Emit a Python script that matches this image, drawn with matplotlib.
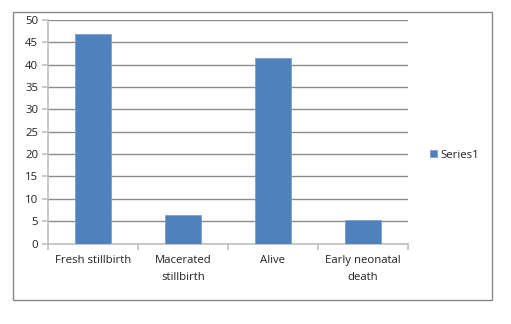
import matplotlib
matplotlib.use("Agg")
import matplotlib.pyplot as plt
from matplotlib.patches import Rectangle

categories = ["Fresh stillbirth", "Macerated\nstillbirth", "Alive", "Early neonatal\ndeath"]
values = [46.8, 6.3, 41.4, 5.3]
series_name = "Series1"
yticks = [0, 5, 10, 15, 20, 25, 30, 35, 40, 45, 50]

plt.rcParams['font.family'] = ['Open Sans', 'DejaVu Sans']

W, H = 511, 324
fig = plt.figure(figsize=(W/100, H/100), dpi=100)
fig.patch.set_facecolor("white")

# outer chart border
fig.patches.append(Rectangle((13/W, 1-300/H), (492-13)/W, (300-12)/H,
                             transform=fig.transFigure, fill=False,
                             edgecolor="#888888", linewidth=1.0))

ax = fig.add_axes([48/W, 1-243.5/H, (408-48)/W, (243.5-20)/H])
x = list(range(len(categories)))
bars = ax.bar(x, values, width=0.4, color="#4f81bd", edgecolor="#7ba0cd",
              linewidth=0.6, label=series_name, zorder=3)

ax.set_xlim(-0.5, len(categories)-0.5)
ax.set_ylim(0, 50)
ax.set_yticks(yticks)
ax.set_yticklabels([str(t) for t in yticks])
ax.yaxis.grid(True, color="#8c8c8c", linewidth=1.0, zorder=0)
ax.set_axisbelow(True)

for s in ["top", "right"]:
    ax.spines[s].set_visible(False)
ax.spines["left"].set_color("#bfbfbf")
ax.spines["bottom"].set_color("#bfbfbf")
ax.spines["left"].set_linewidth(1.2)
ax.spines["bottom"].set_linewidth(1.2)

ax.set_xticks(x)
ax.set_xticklabels(categories, fontsize=8.2, color="#222222", linespacing=1.75)
ax.tick_params(axis="x", which="major", length=0, pad=8)
ax.set_xticks([i-0.5 for i in range(len(categories)+1)], minor=True)
ax.tick_params(axis="x", which="minor", length=4, color="#bfbfbf", width=1.2)
ax.tick_params(axis="y", length=4, color="#bfbfbf", width=1.2, labelsize=8.2,
               labelcolor="#222222", pad=3)

leg = fig.legend(handles=[bars], labels=[series_name], loc="center left",
                 bbox_to_anchor=(430/W, 1-155/H), frameon=False, fontsize=8.2,
                 handlelength=0.6, handleheight=0.6, handletextpad=0.3,
                 borderpad=0, borderaxespad=0)
for t in leg.get_texts():
    t.set_color("#222222")

fig.savefig("out.png", dpi=100, facecolor="white")
